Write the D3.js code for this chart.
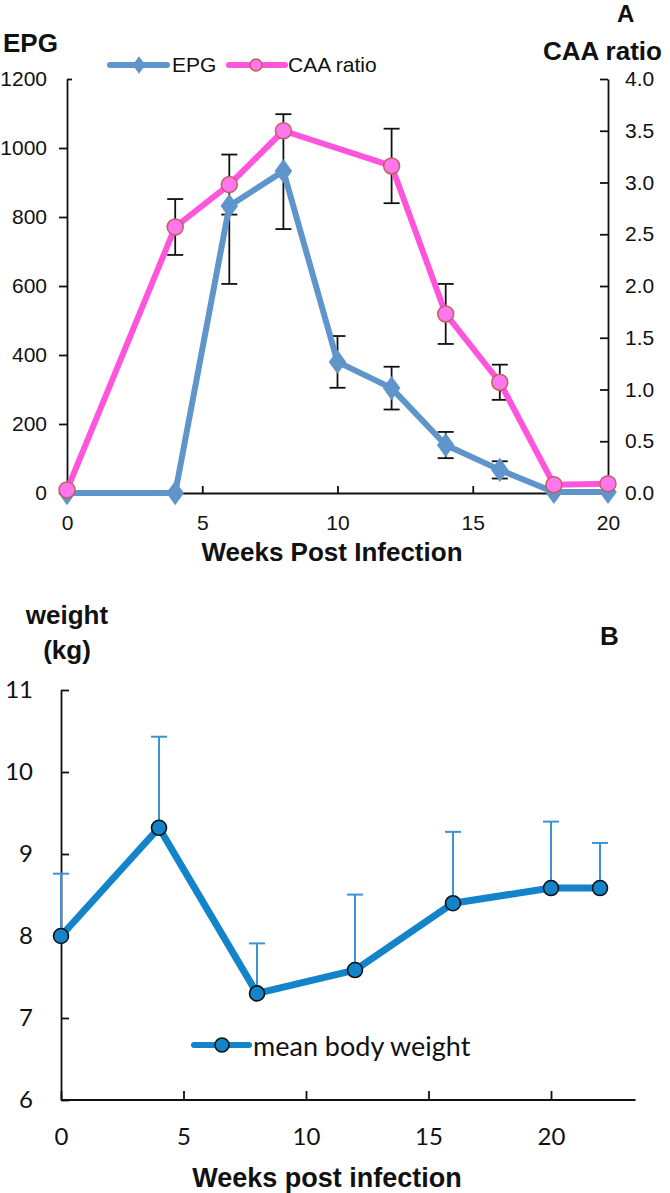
<!DOCTYPE html>
<html><head><meta charset="utf-8">
<script src="https://cdn.jsdelivr.net/npm/d3@7"></script>
<style>
html,body{margin:0;padding:0;background:#fff;}
svg{display:block;}
</style></head>
<body>
<svg id="c" width="670" height="1193"></svg>
<script>
// ---------- Panel A data ----------
const epgWeeks = [0, 4, 6, 8, 10, 12, 14, 16, 18, 20];
const epgValues = [0, 0, 832, 933, 380, 304, 139, 67, 3, 3];
const epgErrLow = [null, null, 606, 765, 305, 242, 101, 42, null, null];
const epgErrHigh = [null, null, 832, 1098, 455, 366, 177, 92, null, null];

const caaWeeks = [0, 4, 6, 8, 12, 14, 16, 18, 20];
const caaValues = [0.03, 2.57, 2.98, 3.5, 3.16, 1.73, 1.07, 0.08, 0.09];
const caaErr = [0, 0.27, 0.29, 0, 0.36, 0.29, 0.17, 0, 0];

const epgTicks = [0, 200, 400, 600, 800, 1000, 1200];
const caaTicks = [0, 0.5, 1, 1.5, 2, 2.5, 3, 3.5, 4];
const weekTicksA = [0, 5, 10, 15, 20];

// ---------- Panel B data ----------
const bwWeeks = [0, 4, 8, 12, 16, 20, 22];
const bwValues = [8.0, 9.32, 7.30, 7.585, 8.40, 8.585, 8.585];
const bwErrUp = [0.76, 1.11, 0.61, 0.92, 0.87, 0.81, 0.55];
const bwTicks = [6, 7, 8, 9, 10, 11];
const weekTicksB = [0, 5, 10, 15, 20];

const svg = d3.select("#c");
const AR = "'Liberation Sans', Arial, sans-serif";
const CAL = "Lato, 'Open Sans', sans-serif";

// ================= Panel A =================
const xA = d3.scaleLinear().domain([0, 20]).range([67, 608]);
const yE = d3.scaleLinear().domain([0, 1200]).range([493, 79]);
const yC = d3.scaleLinear().domain([0, 4]).range([493, 79]);

const EPG_COL = "#5f95cb";
const CAA_COL = "#ff55dd";

function styleAxis(g, font, size) {
  g.select(".domain").attr("stroke", "#111").attr("stroke-width", 1.8);
  g.selectAll(".tick line").attr("stroke", "#111").attr("stroke-width", 1.8);
  g.selectAll("text").attr("font-family", font).attr("font-size", size).attr("fill", "#111");
}

const gl = svg.append("g").attr("transform", `translate(${xA(0)},0)`)
  .call(d3.axisLeft(yE).tickValues(epgTicks).tickSizeInner(8).tickSizeOuter(0).tickPadding(12).tickFormat(d3.format("d")));
styleAxis(gl, AR, 21);
// top tick of the left axis points inward in the original
gl.selectAll(".tick").filter(d => d === 1200).select("line").attr("x2", 5);

const gr = svg.append("g").attr("transform", `translate(${xA(20)},0)`)
  .call(d3.axisRight(yC).tickValues(caaTicks).tickSizeInner(-8).tickSizeOuter(0).tickPadding(17).tickFormat(d3.format(".1f")));
styleAxis(gr, AR, 21);

const gb = svg.append("g").attr("transform", `translate(0,${yE(0)})`)
  .call(d3.axisBottom(xA).tickValues(weekTicksA).tickSizeInner(-7).tickSizeOuter(0).tickPadding(0));
styleAxis(gb, AR, 21);
gb.selectAll("text").attr("y", 30).attr("dy", "0.35em");

// error bars A
function errBar(g, x, y1, y2, col, w, cap) {
  g.append("line").attr("x1", x).attr("x2", x).attr("y1", y1).attr("y2", y2)
    .attr("stroke", col).attr("stroke-width", w);
  g.append("line").attr("x1", x - cap).attr("x2", x + cap).attr("y1", y1).attr("y2", y1)
    .attr("stroke", col).attr("stroke-width", w);
  g.append("line").attr("x1", x - cap).attr("x2", x + cap).attr("y1", y2).attr("y2", y2)
    .attr("stroke", col).attr("stroke-width", w);
}
const eg = svg.append("g");
epgWeeks.forEach((w, i) => {
  if (epgErrLow[i] !== null) {
    const x = xA(w);
    eg.append("line").attr("x1", x).attr("x2", x).attr("y1", yE(epgErrLow[i])).attr("y2", yE(epgErrHigh[i]))
      .attr("stroke", "#111").attr("stroke-width", 1.8);
    eg.append("line").attr("x1", x - 8).attr("x2", x + 8).attr("y1", yE(epgErrLow[i])).attr("y2", yE(epgErrLow[i]))
      .attr("stroke", "#111").attr("stroke-width", 1.8);
    if (epgErrHigh[i] > epgValues[i])
      eg.append("line").attr("x1", x - 8).attr("x2", x + 8).attr("y1", yE(epgErrHigh[i])).attr("y2", yE(epgErrHigh[i]))
        .attr("stroke", "#111").attr("stroke-width", 1.8);
  }
});
caaWeeks.forEach((w, i) => {
  if (caaErr[i] > 0) errBar(eg, xA(w), yC(caaValues[i] + caaErr[i]), yC(caaValues[i] - caaErr[i]), "#111", 1.8, 8);
});

// EPG line
const epgData = epgWeeks.map((w, i) => ({ x: w, y: epgValues[i] }));
svg.append("path").datum(epgData)
  .attr("d", d3.line().x(d => xA(d.x)).y(d => yE(d.y)))
  .attr("fill", "none").attr("stroke", EPG_COL).attr("stroke-width", 6).attr("stroke-linejoin", "round");
const diamond = d3.symbol().type(d3.symbolDiamond).size(170);
svg.append("g").selectAll("path").data(epgData).join("path")
  .attr("transform", d => `translate(${xA(d.x)},${yE(d.y)}) scale(1.25,1)`)
  .attr("d", diamond).attr("fill", EPG_COL);

// CAA line
const caaData = caaWeeks.map((w, i) => ({ x: w, y: caaValues[i] }));
svg.append("path").datum(caaData)
  .attr("d", d3.line().x(d => xA(d.x)).y(d => yC(d.y)))
  .attr("fill", "none").attr("stroke", CAA_COL).attr("stroke-width", 6).attr("stroke-linejoin", "round");
svg.append("g").selectAll("circle").data(caaData).join("circle")
  .attr("cx", d => xA(d.x)).attr("cy", d => yC(d.y)).attr("r", 8)
  .attr("fill", "#ff77ee").attr("stroke", "#c0605a").attr("stroke-width", 1.5);

// Legend A
const lgA = svg.append("g");
lgA.append("line").attr("x1", 110).attr("x2", 167).attr("y1", 65).attr("y2", 65)
  .attr("stroke", EPG_COL).attr("stroke-width", 6).attr("stroke-linecap", "round");
lgA.append("path").attr("d", d3.symbol().type(d3.symbolDiamond).size(90)())
  .attr("transform", "translate(139,65) scale(1.25,1)").attr("fill", EPG_COL);
lgA.append("text").attr("x", 172).attr("y", 65).attr("dy", "0.35em").text("EPG")
  .attr("font-family", AR).attr("font-size", 21).attr("fill", "#111");
lgA.append("line").attr("x1", 229).attr("x2", 285).attr("y1", 65).attr("y2", 65)
  .attr("stroke", CAA_COL).attr("stroke-width", 6).attr("stroke-linecap", "round");
lgA.append("circle").attr("cx", 256).attr("cy", 65).attr("r", 6)
  .attr("fill", "#ff77ee").attr("stroke", "#c0605a").attr("stroke-width", 1.5);
lgA.append("text").attr("x", 288).attr("y", 65).attr("dy", "0.35em").text("CAA ratio")
  .attr("font-family", AR).attr("font-size", 21).attr("fill", "#111");

// Titles A
function boldText(x, y, t, size, anchor) {
  svg.append("text").attr("x", x).attr("y", y).text(t)
    .attr("font-family", AR).attr("font-weight", "bold").attr("font-size", size)
    .attr("text-anchor", anchor || "start").attr("fill", "#111");
}
boldText(3, 52, "EPG", 26);
boldText(617, 22, "A", 24);
boldText(543, 60, "CAA ratio", 26);
boldText(332, 561, "Weeks Post Infection", 26, "middle");

// ================= Panel B =================
const xB = d3.scaleLinear().domain([0, 20]).range([61, 551]);
const yB = d3.scaleLinear().domain([6, 11]).range([1100, 690]);
const xAxisEndB = 23.45;
const BW_COL = "#1384c9";
const BW_ERR = "#3a95d5";

const gbl = svg.append("g").attr("transform", `translate(${xB(0)},0)`)
  .call(d3.axisLeft(yB).tickValues(bwTicks).tickSizeInner(-8).tickSizeOuter(0).tickPadding(28).tickFormat(d3.format("d")));
styleAxis(gbl, CAL, 24);

const gbb = svg.append("g").attr("transform", `translate(0,${yB(6)})`)
  .call(d3.axisBottom(xB).tickValues(weekTicksB).tickSizeInner(-9).tickSizeOuter(0).tickPadding(0));
styleAxis(gbb, CAL, 24);
gbb.select(".domain").remove();
gbb.append("line").attr("x1", xB(0)).attr("x2", xB(xAxisEndB)).attr("y1", 0).attr("y2", 0)
  .attr("stroke", "#111").attr("stroke-width", 1.8);
gbb.selectAll("text").attr("y", 37).attr("dy", "0.35em");

// error bars B (upper only)
const ebB = svg.append("g");
bwWeeks.forEach((w, i) => {
  const x = xB(w), y1 = yB(bwValues[i]), y2 = yB(bwValues[i] + bwErrUp[i]);
  ebB.append("line").attr("x1", x).attr("x2", x).attr("y1", y1).attr("y2", y2).attr("stroke", BW_ERR).attr("stroke-width", 2);
  ebB.append("line").attr("x1", x - 8).attr("x2", x + 8).attr("y1", y2).attr("y2", y2).attr("stroke", BW_ERR).attr("stroke-width", 2);
});

const bwData = bwWeeks.map((w, i) => ({ x: w, y: bwValues[i] }));
svg.append("path").datum(bwData)
  .attr("d", d3.line().x(d => xB(d.x)).y(d => yB(d.y)))
  .attr("fill", "none").attr("stroke", BW_COL).attr("stroke-width", 7).attr("stroke-linejoin", "round");
svg.append("g").selectAll("circle").data(bwData).join("circle")
  .attr("cx", d => xB(d.x)).attr("cy", d => yB(d.y)).attr("r", 7.5)
  .attr("fill", BW_COL).attr("stroke", "#111").attr("stroke-width", 1.6);

// Legend B
svg.append("line").attr("x1", 194).attr("x2", 249).attr("y1", 1045).attr("y2", 1045)
  .attr("stroke", BW_COL).attr("stroke-width", 6).attr("stroke-linecap", "round");
svg.append("circle").attr("cx", 222).attr("cy", 1045).attr("r", 7)
  .attr("fill", BW_COL).attr("stroke", "#111").attr("stroke-width", 1.6);
svg.append("text").attr("x", 253).attr("y", 1056).text("mean body weight")
  .attr("font-family", CAL).attr("font-size", 27).attr("fill", "#111");

boldText(67, 624, "weight", 26, "middle");
boldText(67, 659, "(kg)", 26, "middle");
boldText(600, 645, "B", 26);
boldText(327, 1187, "Weeks post infection", 27, "middle");
</script>
</body></html>
